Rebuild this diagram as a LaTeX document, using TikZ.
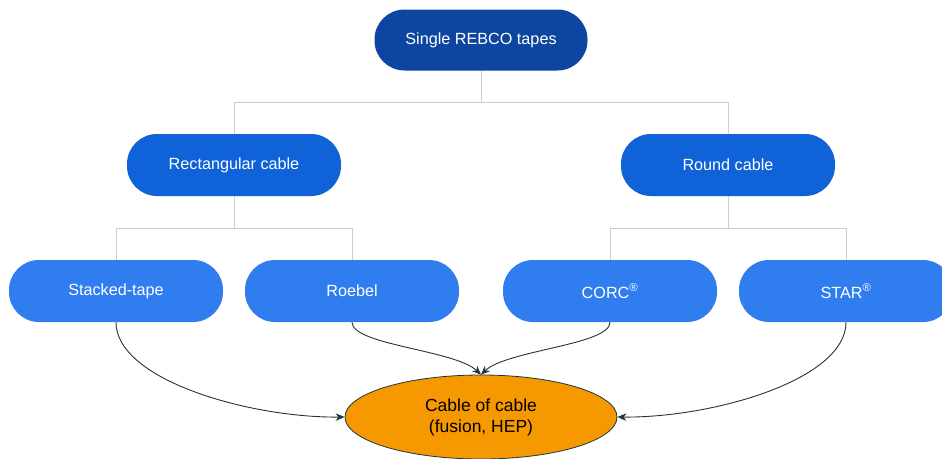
\documentclass[tikz,border=0pt]{standalone}
\usepackage{fontspec}
\setmainfont{Liberation Sans}
\usetikzlibrary{arrows.meta,shapes.geometric,calc}
\definecolor{topblue}{RGB}{12,70,160}
\definecolor{midblue}{RGB}{16,98,217}
\definecolor{lowblue}{RGB}{48,125,240}
\definecolor{treegray}{RGB}{205,205,205}
\definecolor{arrowdark}{RGB}{30,55,60}
\definecolor{orangefill}{RGB}{246,152,0}
\tikzset{
  pill/.style={rectangle, rounded corners=30pt, minimum width=214pt, minimum height=62pt, text=white, font=\fontsize{16.2}{19}\selectfont, inner sep=0pt},
  toppill/.style={pill, fill=topblue, minimum width=213pt, minimum height=61pt},
  midpill/.style={pill, fill=midblue},
  lowpill/.style={pill, fill=lowblue},
  treeline/.style={draw=treegray, line width=0.9pt},
  flow/.style={draw=arrowdark, line width=0.9pt, -{Stealth[length=9pt,width=7.5pt]}},
  goal/.style={ellipse, draw=arrowdark, line width=0.8pt, fill=orangefill, minimum width=272pt, minimum height=84pt, inner sep=0pt, align=center, font=\fontsize{17.5}{21}\selectfont}
}
\begin{document}
\begin{tikzpicture}[x=1pt,y=-1pt]
\clip (0,0) rectangle (942,458);
\fill[white] (0,0) rectangle (942,458);
\node[toppill] (top) at (481,40) {Single REBCO tapes};
\node[midpill] (rect) at (234,165) {Rectangular cable};
\node[midpill] (round) at (728,165) {Round cable};
\node[lowpill] (stack) at (116,291) {Stacked-tape};
\node[lowpill] (roebel) at (352,291) {Roebel};
\node[lowpill] (corc) at (610,291) {CORC\textsuperscript{®}};
\node[lowpill] (star) at (846,291) {STAR\textsuperscript{®}};
\node[goal] (goal) at (481,417) {Cable of cable\\(fusion, HEP)};
\coordinate (j1) at (481,102);
\coordinate (j2) at (234,228);
\coordinate (j3) at (728,228);
\draw[treeline] (top.south) -- (j1);
\draw[treeline] (j1) -| (rect.north);
\draw[treeline] (j1) -| (round.north);
\draw[treeline] (rect.south) -- (j2);
\draw[treeline] (j2) -| (stack.north);
\draw[treeline] (j2) -| (roebel.north);
\draw[treeline] (round.south) -- (j3);
\draw[treeline] (j3) -| (corc.north);
\draw[treeline] (j3) -| (star.north);
\draw[flow] (stack.south) .. controls (116,380) and (250,418) .. (goal.west);
\draw[flow] (star.south) .. controls (846,380) and (712,418) .. (goal.east);
\draw[flow] (roebel.south) .. controls (352,345) and (455,350) .. (goal.north);
\draw[flow] (corc.south) .. controls (610,345) and (507,350) .. (goal.north);
\end{tikzpicture}
\end{document}
